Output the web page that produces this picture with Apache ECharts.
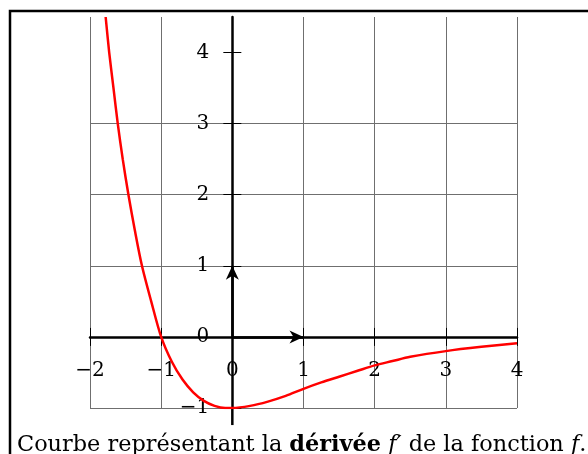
<!DOCTYPE html>
<html>
<head>
<meta charset="utf-8">
<script src="https://cdn.jsdelivr.net/npm/echarts@6/dist/echarts.min.js"></script>
<style>
  html, body { margin: 0; padding: 0; background: #fff; }
  #chart { width: 588px; height: 454px; }
</style>
</head>
<body>
<div id="chart"></div>
<script>
const xValues      = [-1.78, -1.73, -1.67, -1.61, -1.54, -1.46, -1.37, -1.27, -1.14, -1.0,
                      -0.85, -0.7, -0.55, -0.4, -0.25, -0.1, 0, 0.25, 0.5, 0.75,
                      1, 1.25, 1.5, 1.75, 2, 2.25, 2.5, 3, 3.5, 4];
const fPrimeValues = [4.5, 4.0, 3.5, 3.0, 2.5, 2.0, 1.5, 1.0, 0.5, 0.0,
                      -0.35, -0.6, -0.78, -0.9, -0.97, -1.0, -1.0, -0.97, -0.91, -0.83,
                      -0.73, -0.64, -0.56, -0.48, -0.4, -0.34, -0.28, -0.2, -0.14, -0.09];

// Graduations des axes
const xTicks = [-2, -1, 0, 1, 2, 3, 4];
const yTicks = [-1, 0, 1, 2, 3, 4];
const yTop = 4.5;          // haut de la fenêtre
const yAxisBottom = -1.24; // l'axe des ordonnées dépasse sous la grille

// Vecteurs du repère
const vecI = [1, 0];
const vecJ = [0, 1];

const SERIF = '"DejaVu Serif", "Liberation Serif", serif';
const fmt = v => (v < 0 ? '\u2212' + (-v) : String(v));

// Pointe de flèche, la pointe est au centre de la boîte englobante
const ARROW = 'path://M6.5,-14 M6.5,0 L13,14 L6.5,10 L0,14 Z';

// Écart voulu entre les graduations et les axes passant par l'origine
const Y_LABEL_GAP = 23;
const X_LABEL_GAP = 24;

const chart = echarts.init(document.getElementById('chart'), null, { renderer: 'canvas' });

const gridColor = '#6f6f6f';
const tickStyle = { color: '#000', width: 1 };
const labelFont = { color: '#000', fontFamily: SERIF, fontSize: 20 };
const captionSize = 22.4;
const xBase = { type: 'value', interval: 1, min: xTicks[0], max: xTicks[xTicks.length - 1] };
const yBase = { type: 'value', interval: 1, min: yTicks[0], max: yTop };

function buildOption(xMargin, yMargin) {
  return {
    animation: false,
    backgroundColor: '#fff',
    grid: { left: 90, right: 71, top: 17, bottom: 46, containLabel: false },
    title: {
      text: 'Courbe représentant la {b|dérivée} {i|f\u2032} de la fonction {i|f}.',
      left: 17,
      top: 431,
      padding: 0,
      textStyle: {
        fontFamily: SERIF, fontSize: captionSize, fontWeight: 'normal', color: '#000', lineHeight: 28,
        rich: {
          b: { fontFamily: SERIF, fontSize: captionSize, fontWeight: 'bold', color: '#000', lineHeight: 28 },
          i: { fontFamily: SERIF, fontSize: captionSize, fontStyle: 'italic', color: '#000', lineHeight: 28 }
        }
      }
    },
    xAxis: [
      Object.assign({}, xBase, {
        position: 'bottom',
        axisLine: { onZero: true, onZeroAxisIndex: 0, lineStyle: { color: '#000', width: 2.5 } },
        axisTick: { show: true, inside: false, length: 9, lineStyle: tickStyle },
        axisLabel: Object.assign({ show: true, margin: xMargin, formatter: fmt }, labelFont),
        splitLine: { show: true, lineStyle: { color: gridColor, width: 1 } }
      }),
      Object.assign({}, xBase, {
        position: 'top',
        axisLine: { show: false, onZero: true, onZeroAxisIndex: 0 },
        axisTick: { show: true, inside: false, length: 9, lineStyle: tickStyle },
        axisLabel: { show: false },
        splitLine: { show: false }
      })
    ],
    yAxis: [
      Object.assign({}, yBase, {
        position: 'left',
        axisLine: { onZero: true, onZeroAxisIndex: 0, lineStyle: { color: '#000', width: 2.5 } },
        axisTick: { show: true, inside: false, length: 9, customValues: yTicks, lineStyle: tickStyle },
        axisLabel: Object.assign({ show: true, margin: yMargin, customValues: yTicks,
          formatter: v => (Number.isInteger(v) ? fmt(v) : '') }, labelFont),
        splitLine: { show: true, showMaxLine: false, lineStyle: { color: gridColor, width: 1 } }
      }),
      Object.assign({}, yBase, {
        position: 'right',
        axisLine: { show: false, onZero: true, onZeroAxisIndex: 0 },
        axisTick: { show: true, inside: false, length: 9, customValues: yTicks, lineStyle: tickStyle },
        axisLabel: { show: false },
        splitLine: { show: false }
      })
    ],
    graphic: [
      {
        type: 'polyline',
        shape: { points: [[10, 454], [10, 11], [588, 11]] },
        style: { stroke: '#000', lineWidth: 2.5, fill: null },
        silent: true
      }
    ],
    series: [
      {
        name: "f'",
        type: 'line',
        data: xValues.map((x, i) => [x, fPrimeValues[i]]),
        smooth: 0.3,
        showSymbol: false,
        clip: true,
        lineStyle: { color: '#ff0000', width: 2.5 },
        z: 5
      },
      {
        name: 'axe',
        type: 'line',
        data: [[0, yAxisBottom], [0, yTicks[0]]],
        clip: false,
        showSymbol: false,
        lineStyle: { color: '#000', width: 2.5 },
        silent: true,
        z: 4,
        markLine: {
          silent: true,
          symbol: ['none', ARROW],
          symbolSize: [13, 28],
          label: { show: false },
          lineStyle: { color: '#000', width: 2.5, type: 'solid' },
          data: [
            [{ coord: [0, 0] }, { coord: vecI }],
            [{ coord: [0, 0] }, { coord: vecJ }]
          ]
        }
      }
    ]
  };
}

chart.setOption(buildOption(X_LABEL_GAP, Y_LABEL_GAP));

// Les graduations restent au bord de la grille : on les ramène près des axes de l'origine
const xZero = chart.convertToPixel({ xAxisIndex: 0 }, 0);
const xLeft = chart.convertToPixel({ xAxisIndex: 0 }, xTicks[0]);
const yZero = chart.convertToPixel({ yAxisIndex: 0 }, 0);
const yLow  = chart.convertToPixel({ yAxisIndex: 0 }, yTicks[0]);
chart.setOption(buildOption(X_LABEL_GAP - (yLow - yZero), Y_LABEL_GAP - (xZero - xLeft)));
</script>
</body>
</html>
